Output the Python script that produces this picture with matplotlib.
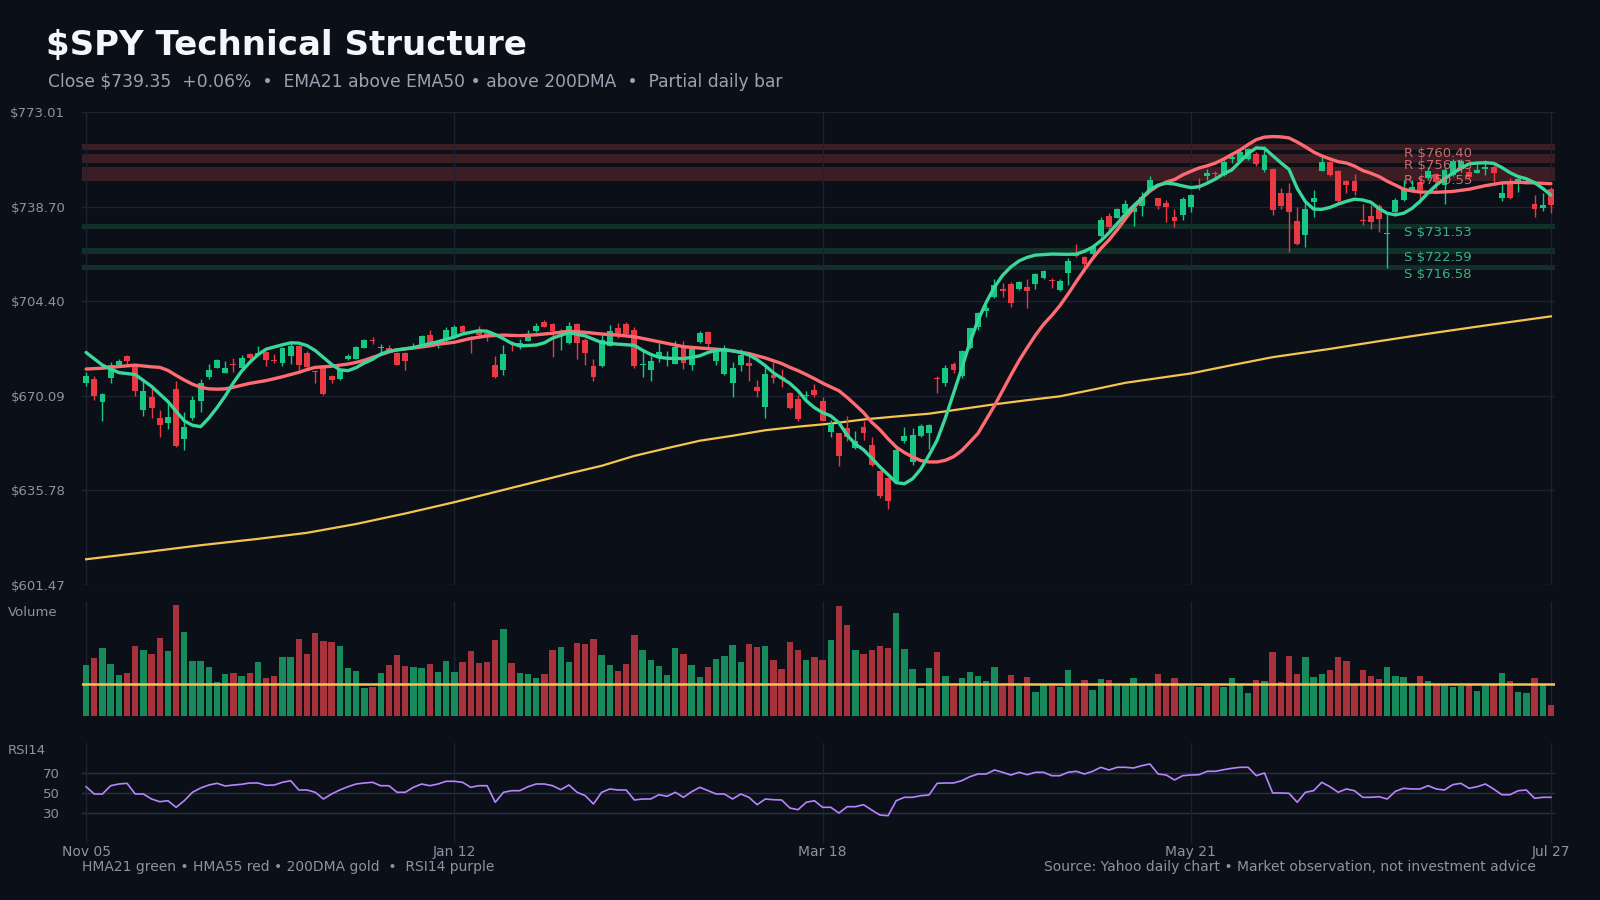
import matplotlib
matplotlib.use("Agg")
import matplotlib.pyplot as plt
import numpy as np

BG = "#0b0f17"
GRID = "#1d2331"
TICK = "#8b93a3"
UP = "#16c784"
DOWN = "#ea3943"
HMA_G = "#3ad69a"
HMA_R = "#ff6b72"
GOLD = "#f5c451"
PURPLE = "#b784ff"

# ---- daily candles (index 0 = Nov 05, last = Jul 27) ----
opens = [674.6, 676.3, 667.7, 676.7, 680.9, 684.6, 680.6, 665.1, 669.7, 662.1,
         660.3, 672.6, 654.6, 662.2, 668.3, 677.0, 680.2, 678.4, 681.7, 680.2,
         685.3, 685.0, 686.0, 683.0, 682.0, 684.6, 688.2, 685.7, 679.2, 680.6,
         677.4, 676.3, 683.5, 683.5, 687.5, 690.4, 687.4, 687.5, 685.7, 685.7,
         687.5, 688.6, 692.2, 688.8, 690.4, 691.5, 695.5, 691.5, 693.3, 692.9,
         681.3, 679.3, 689.4, 688.4, 690.0, 693.7, 696.9, 696.2, 692.9, 689.1,
         696.2, 690.4, 681.0, 681.0, 688.2, 694.8, 696.2, 694.0, 681.2, 679.5,
         683.9, 683.8, 681.7, 687.5, 681.3, 689.7, 693.3, 682.8, 678.1, 674.6,
         681.3, 682.0, 673.4, 666.2, 677.7, 677.0, 671.2, 669.0, 669.9, 672.3,
         668.3, 657.0, 656.5, 658.3, 651.2, 658.7, 652.1, 642.8, 640.2, 639.2,
         653.6, 646.1, 655.5, 656.6, 676.5, 674.8, 681.5, 677.3, 687.5, 695.0,
         700.9, 705.9, 708.8, 710.6, 708.8, 709.5, 710.7, 712.8, 712.0, 708.5,
         714.7, 721.3, 720.5, 721.5, 728.0, 735.3, 734.7, 736.5, 736.9, 738.9,
         744.5, 741.7, 740.0, 734.9, 735.7, 738.7, 746.5, 749.9, 750.9, 750.2,
         755.8, 755.2, 756.0, 757.8, 752.0, 752.3, 743.7, 743.7, 733.6, 728.4,
         740.3, 751.7, 754.9, 751.6, 748.0, 748.0, 733.8, 735.3, 738.9, 728.6,
         736.7, 741.1, 744.4, 747.7, 749.0, 750.4, 746.5, 750.2, 752.2, 751.4,
         751.0, 752.2, 753.2, 741.8, 746.8, 747.7, 747.4, 739.6, 738.3, 745.1]
highs = [678.9, 677.4, 671.2, 682.2, 683.5, 685.0, 681.0, 675.5, 673.4, 665.0,
         667.2, 675.5, 664.3, 670.1, 676.3, 681.7, 683.4, 682.8, 683.9, 685.0,
         685.6, 688.2, 686.4, 685.3, 687.9, 689.7, 688.6, 686.2, 679.6, 681.0,
         677.7, 679.9, 685.3, 688.2, 690.8, 691.5, 689.0, 688.6, 686.0, 686.0,
         689.3, 692.2, 694.0, 690.4, 695.1, 695.8, 695.8, 691.9, 695.5, 693.7,
         684.6, 688.6, 690.0, 690.8, 694.0, 696.6, 697.7, 696.6, 694.2, 696.9,
         696.6, 691.0, 683.5, 692.2, 695.8, 696.6, 696.9, 695.1, 686.4, 684.6,
         689.3, 686.4, 690.0, 690.0, 687.5, 693.7, 693.7, 686.8, 688.6, 682.4,
         687.1, 684.6, 675.9, 680.4, 682.4, 679.9, 671.6, 670.5, 671.9, 674.4,
         669.7, 661.2, 656.7, 662.7, 657.2, 660.8, 655.2, 643.1, 640.4, 651.9,
         658.8, 658.3, 659.9, 659.9, 677.2, 681.2, 682.2, 686.6, 694.8, 700.4,
         703.0, 712.4, 710.9, 711.3, 711.7, 712.4, 714.6, 715.7, 712.8, 712.3,
         719.9, 725.1, 720.8, 724.8, 734.8, 736.3, 738.1, 741.1, 739.6, 744.0,
         749.8, 741.9, 741.1, 737.8, 742.3, 743.1, 749.0, 752.3, 751.6, 755.6,
         758.0, 760.0, 760.0, 758.5, 760.7, 752.8, 745.3, 747.4, 738.7, 740.0,
         744.7, 756.6, 755.2, 752.0, 748.3, 750.5, 739.6, 739.3, 739.6, 736.3,
         741.8, 748.3, 748.3, 749.6, 753.2, 751.0, 752.6, 756.1, 755.8, 753.2,
         754.4, 755.6, 753.8, 747.1, 749.0, 749.6, 748.6, 742.9, 743.5, 745.9]
lows = [673.7, 668.5, 660.8, 674.6, 680.4, 681.0, 670.1, 662.8, 662.0, 655.3,
        658.2, 651.7, 650.6, 661.3, 664.1, 676.3, 680.0, 678.2, 678.9, 679.9,
        682.2, 684.6, 681.0, 682.0, 681.0, 681.7, 679.6, 679.2, 674.6, 670.5,
        674.6, 675.9, 683.2, 683.3, 687.4, 689.0, 685.7, 686.4, 681.2, 679.5,
        687.4, 688.4, 688.2, 687.5, 690.0, 691.2, 692.9, 685.7, 691.9, 690.0,
        676.5, 677.7, 686.4, 686.9, 689.8, 693.4, 694.9, 684.2, 686.8, 689.0,
        683.5, 681.3, 675.3, 680.4, 688.0, 691.2, 692.2, 680.0, 677.0, 675.3,
        682.4, 681.0, 681.5, 679.9, 679.5, 689.4, 687.9, 681.3, 677.7, 669.5,
        679.2, 675.3, 669.5, 661.9, 674.6, 673.1, 665.4, 661.0, 668.3, 669.5,
        660.8, 655.2, 644.6, 653.7, 650.8, 654.0, 644.6, 633.1, 629.0, 638.8,
        653.0, 645.0, 655.2, 650.8, 671.1, 673.7, 678.4, 676.5, 687.2, 693.9,
        698.7, 705.6, 706.0, 702.2, 708.4, 701.9, 708.8, 712.3, 709.3, 708.2,
        710.4, 720.5, 715.1, 721.1, 727.8, 729.6, 734.4, 736.3, 731.7, 735.3,
        744.1, 737.8, 733.1, 731.3, 733.8, 736.9, 744.7, 748.3, 748.8, 749.9,
        754.5, 755.0, 755.7, 753.4, 751.4, 735.5, 737.7, 722.4, 724.8, 724.2,
        735.0, 751.5, 749.9, 739.6, 743.5, 742.9, 732.0, 730.6, 729.6, 716.5,
        735.7, 740.8, 744.0, 740.1, 748.3, 745.0, 739.6, 749.9, 751.4, 749.0,
        750.8, 750.2, 747.7, 740.8, 741.6, 744.1, 746.9, 735.0, 737.1, 736.5]
closes = [677.4, 669.9, 670.8, 681.3, 682.8, 682.8, 671.7, 671.9, 665.5, 659.6,
          662.5, 652.0, 658.9, 668.6, 674.8, 679.5, 683.2, 680.2, 681.3, 683.9,
          683.9, 685.7, 683.2, 682.6, 687.5, 688.2, 681.3, 680.6, 678.7, 670.8,
          675.9, 679.5, 684.6, 687.9, 690.4, 690.0, 687.7, 686.7, 681.3, 682.8,
          687.9, 691.9, 689.3, 689.4, 694.0, 695.1, 693.3, 690.4, 692.1, 692.2,
          677.0, 685.3, 688.8, 689.1, 692.2, 695.5, 695.1, 693.7, 693.7, 695.5,
          689.1, 685.7, 677.0, 690.4, 693.7, 692.6, 692.6, 681.0, 681.7, 682.8,
          686.0, 684.2, 687.9, 682.0, 687.1, 692.9, 689.0, 686.4, 686.4, 680.2,
          685.0, 681.0, 672.0, 678.1, 676.6, 676.3, 665.7, 661.8, 670.5, 670.5,
          661.0, 660.0, 648.3, 655.2, 653.7, 656.6, 645.0, 633.7, 631.9, 650.3,
          655.5, 655.9, 659.0, 659.5, 676.0, 680.1, 679.5, 686.3, 694.6, 700.1,
          701.9, 710.2, 708.0, 703.7, 711.3, 708.2, 714.2, 715.3, 711.7, 711.8,
          718.9, 720.9, 718.0, 723.9, 733.8, 731.4, 737.8, 739.6, 738.3, 742.3,
          748.3, 738.9, 738.6, 733.6, 741.4, 742.9, 746.2, 750.9, 750.5, 754.9,
          756.7, 758.5, 759.6, 754.1, 757.4, 737.5, 738.9, 736.7, 725.1, 737.8,
          741.8, 754.9, 750.2, 740.7, 746.7, 744.4, 733.4, 733.1, 734.2, 728.9,
          741.1, 745.3, 745.7, 744.7, 751.6, 747.7, 752.0, 755.4, 755.4, 749.6,
          752.0, 753.0, 750.8, 743.7, 741.8, 748.6, 748.0, 737.8, 739.2, 739.35]

# volume, millions of shares
volume = [78.0, 83.3, 90.8, 78.8, 70.5, 72.0, 92.3, 89.3, 86.3, 98.3,
          88.5, 123.0, 102.8, 81.0, 81.0, 76.5, 65.3, 71.3, 72.0, 69.8,
          72.0, 80.3, 68.3, 69.8, 84.0, 84.0, 97.5, 86.3, 102.0, 96.0,
          95.3, 92.3, 75.8, 73.5, 60.8, 61.5, 72.0, 78.0, 85.5, 77.5,
          76.5, 75.8, 78.8, 72.8, 81.0, 72.8, 80.3, 88.5, 79.5, 80.3,
          96.8, 105.0, 79.5, 72.0, 71.3, 68.3, 71.3, 89.3, 91.5, 80.3,
          94.5, 93.8, 97.5, 85.5, 78.0, 73.5, 78.8, 100.5, 89.3, 81.8,
          77.3, 70.5, 90.8, 86.3, 78.0, 69.0, 76.5, 82.5, 84.8, 93.0,
          80.3, 93.8, 91.5, 92.3, 81.8, 75.0, 95.3, 89.3, 81.8, 84.0,
          81.8, 96.8, 122.3, 108.0, 89.3, 86.3, 89.3, 92.3, 90.8, 117.0,
          90.0, 75.0, 60.8, 75.8, 87.8, 69.8, 62.3, 68.3, 72.8, 69.8,
          66.0, 76.5, 62.3, 70.5, 62.3, 69.0, 57.8, 63.0, 62.3, 61.5,
          74.3, 62.3, 66.8, 59.3, 67.5, 66.8, 63.8, 63.8, 68.3, 63.8,
          63.8, 71.3, 63.8, 68.3, 63.8, 62.3, 61.5, 63.0, 62.3, 61.5,
          68.3, 63.8, 57.0, 66.8, 66.0, 87.8, 65.3, 84.8, 71.3, 84.0,
          69.0, 71.3, 74.3, 84.0, 81.0, 63.8, 74.3, 69.8, 67.5, 76.5,
          69.8, 69.0, 63.8, 69.8, 66.0, 63.8, 63.8, 61.5, 62.3, 63.8,
          58.5, 63.8, 63.8, 72.0, 66.0, 57.8, 57.0, 68.3, 63.8, 48.0]
vol_avg = 64.0

rsi = [56.3, 49.0, 49.0, 57.3, 59.0, 59.7, 49.0, 49.0, 44.0, 41.3,
       42.3, 35.7, 42.3, 50.7, 55.0, 58.0, 59.7, 57.0, 58.0, 58.7,
       60.0, 60.0, 57.7, 58.0, 60.7, 62.3, 53.0, 53.0, 50.7, 44.0,
       49.0, 53.0, 56.3, 59.0, 60.0, 60.7, 57.3, 57.3, 50.7, 50.7,
       55.7, 59.0, 57.3, 59.0, 61.7, 61.7, 60.7, 55.7, 57.3, 57.3,
       40.7, 50.7, 52.3, 52.3, 56.3, 59.0, 59.0, 57.3, 53.3, 58.0,
       50.7, 47.3, 39.0, 50.7, 54.0, 53.0, 53.0, 43.0, 44.0, 44.0,
       48.3, 46.7, 50.7, 45.7, 51.3, 55.7, 52.3, 49.0, 49.0, 44.0,
       49.0, 45.7, 38.3, 44.0, 43.3, 43.0, 35.0, 33.3, 40.7, 42.3,
       35.7, 35.7, 30.0, 36.3, 36.3, 38.3, 33.0, 28.0, 27.3, 42.3,
       45.7, 45.7, 47.3, 48.0, 59.7, 60.0, 60.0, 62.3, 66.3, 69.0,
       69.0, 73.0, 70.7, 68.0, 70.7, 68.3, 70.7, 70.7, 67.3, 67.3,
       70.7, 71.7, 69.0, 71.7, 75.7, 73.0, 75.7, 75.7, 75.0, 77.3,
       79.0, 69.0, 68.0, 63.0, 67.3, 68.0, 68.3, 71.7, 71.7, 73.3,
       74.7, 75.7, 75.7, 67.3, 70.0, 50.0, 50.0, 49.7, 40.7, 50.7,
       52.3, 60.7, 56.3, 50.7, 54.0, 52.3, 45.7, 45.7, 46.3, 44.0,
       51.7, 54.7, 54.0, 54.0, 57.3, 54.0, 53.0, 58.3, 59.7, 54.7,
       56.3, 59.0, 54.0, 48.3, 48.3, 52.3, 53.0, 44.7, 45.7, 45.7]

# moving averages (bar index, price)
hma21_idx = [0, 2, 4, 6, 8, 10, 12, 13, 14, 15, 16, 17, 18, 19, 20, 21, 22, 24, 25, 26,
             27, 28, 29, 30, 31, 32, 33, 34, 35, 36, 37, 38, 40, 42, 43, 45, 46, 48, 49, 50,
             51, 52, 53, 55, 56, 57, 59, 61, 62, 63, 65, 67, 68, 69, 70, 71, 73, 74, 75, 76,
             77, 78, 79, 80, 81, 82, 83, 84, 85, 86, 87, 88, 89, 90, 91, 92, 93, 94, 95, 96,
             97, 98, 99, 100, 101, 102, 103, 104, 105, 106, 107, 108, 109, 110, 111, 112, 113, 114, 115, 116,
             118, 120, 121, 122, 123, 124, 125, 126, 127, 128, 129, 130, 131, 132, 133, 134, 135, 136, 137, 138,
             139, 140, 141, 142, 143, 144, 145, 146, 147, 148, 149, 150, 151, 152, 153, 154, 155, 156, 157, 158,
             159, 160, 161, 162, 163, 164, 165, 166, 167, 168, 169, 170, 171, 172, 173, 174, 175, 176, 177, 178,
             179]
hma21_val = [685.8, 681.2, 678.5, 677.8, 673.5, 668.0, 661.0, 659.4, 658.9, 662.0,
             665.8, 670.0, 674.8, 679.0, 682.2, 685.0, 687.0, 688.6, 689.3, 689.2,
             688.3, 686.5, 684.0, 681.5, 679.5, 679.2, 680.3, 682.0, 683.3, 685.2,
             686.3, 686.7, 687.6, 689.0, 689.7, 691.4, 692.5, 693.7, 693.5, 692.3,
             690.8, 689.1, 688.2, 688.5, 689.3, 691.0, 693.0, 691.8, 690.6, 689.4,
             688.8, 688.4, 686.6, 685.1, 684.1, 683.7, 683.6, 684.0, 684.6, 685.8,
             686.6, 686.8, 686.4, 685.8, 684.9, 683.2, 681.0, 678.4, 676.5, 674.6,
             671.9, 668.3, 665.8, 664.0, 662.8, 660.3, 655.8, 652.6, 650.5, 647.5,
             644.3, 641.5, 638.6, 638.2, 640.0, 643.5, 648.5, 654.0, 662.0, 671.0,
             680.0, 689.5, 697.5, 704.0, 709.5, 713.8, 716.8, 719.0, 720.3, 721.1,
             721.5, 721.4, 721.5, 722.5, 724.0, 726.3, 729.2, 732.5, 736.0, 739.0,
             741.7, 744.9, 746.5, 747.2, 746.9, 746.2, 745.6, 745.9, 747.2, 748.7,
             750.6, 752.0, 755.0, 758.0, 760.0, 759.8, 757.2, 754.6, 752.2, 745.3,
             740.5, 737.8, 737.7, 738.4, 739.6, 740.6, 741.4, 741.1, 740.3, 738.0,
             736.3, 735.7, 736.3, 738.0, 740.6, 743.7, 746.5, 748.8, 750.8, 752.6,
             754.2, 754.5, 754.6, 754.4, 752.9, 751.0, 749.6, 748.8, 747.4, 745.3,
             742.9]
hma55_idx = [0, 2, 4, 6, 8, 9, 10, 11, 12, 13, 14, 15, 16, 17, 18, 19, 20, 22, 24, 26,
             27, 28, 29, 30, 31, 32, 33, 34, 35, 36, 37, 38, 40, 42, 43, 45, 47, 49, 51, 53,
             55, 57, 59, 61, 63, 65, 67, 69, 71, 73, 75, 77, 79, 81, 83, 84, 85, 86, 87, 88,
             89, 90, 91, 92, 93, 94, 95, 96, 97, 98, 99, 100, 101, 102, 103, 104, 105, 106, 107, 108,
             109, 110, 111, 112, 113, 114, 115, 116, 117, 118, 119, 120, 121, 122, 123, 124, 125, 126, 127, 128,
             129, 130, 131, 132, 133, 134, 135, 136, 137, 138, 139, 140, 141, 142, 143, 144, 145, 146, 147, 148,
             149, 150, 151, 152, 153, 154, 155, 156, 157, 158, 159, 160, 161, 162, 163, 165, 167, 169, 171, 173,
             175, 177, 179]
hma55_val = [679.8, 680.1, 680.7, 681.2, 680.6, 680.4, 679.3, 677.5, 675.8, 674.3,
             673.2, 672.6, 672.5, 672.6, 673.2, 673.9, 674.6, 675.6, 677.0, 678.6,
             679.6, 680.4, 680.6, 680.8, 681.2, 681.6, 682.2, 683.0, 684.0, 685.0,
             686.0, 686.8, 687.4, 688.2, 688.8, 689.5, 690.9, 691.8, 692.1, 691.9,
             692.2, 692.8, 693.5, 693.1, 692.5, 692.1, 691.5, 690.3, 689.1, 687.9,
             687.4, 687.0, 686.4, 685.4, 683.8, 682.8, 681.8, 680.4, 679.2, 677.8,
             676.3, 674.7, 673.3, 671.9, 669.5, 666.8, 664.0, 660.5, 657.8, 654.5,
             651.5, 649.5, 647.9, 646.6, 646.1, 646.1, 646.7, 648.0, 650.2, 653.3,
             656.5, 661.5, 666.5, 672.0, 677.5, 682.8, 687.5, 692.0, 696.0, 699.2,
             702.8, 707.0, 711.5, 715.8, 719.9, 723.5, 726.6, 730.3, 734.3, 738.2,
             741.6, 744.3, 746.3, 747.6, 748.5, 750.2, 751.5, 752.7, 753.5, 754.5,
             755.9, 757.6, 759.2, 761.2, 763.0, 763.9, 764.1, 764.0, 763.6, 762.1,
             760.4, 758.5, 757.1, 756.0, 755.0, 754.5, 753.4, 751.8, 750.8, 749.6,
             747.9, 746.5, 745.0, 744.4, 744.0, 743.9, 744.2, 745.0, 746.3, 747.3,
             747.5, 747.3, 747.0]
dma200_idx = [0, 7, 14, 21, 27, 33, 39, 45, 52, 57, 59, 63, 67, 71, 75, 79, 83, 87, 91,
              95, 99, 103, 107, 111, 115, 119, 123, 127, 131, 135, 140, 145, 152, 158, 164,
              171, 179]
dma200_val = [610.8, 613.3, 615.9, 618.2, 620.4, 623.6, 627.4, 631.5, 636.7, 640.4,
              641.9, 644.7, 648.3, 651.1, 653.8, 655.6, 657.6, 658.9, 660.0,
              661.5, 662.6, 663.6, 665.3, 667.0, 668.5, 669.9, 672.3, 674.8, 676.5,
              678.2, 681.2, 684.1, 687.1, 689.9, 692.6, 695.6, 698.9]

res_levels = [760.40, 756.13, 750.55]
res_half = [1.1, 1.6, 2.5]
sup_levels = [731.53, 722.59, 716.58]
sup_half = [1.0, 1.0, 1.0]

tick_idx = [0, 45, 90, 135, 179]
tick_lbl = ["Nov 05", "Jan 12", "Mar 18", "May 21", "Jul 27"]
y_lo, y_hi = 601.472, 773.012

n = len(closes)
x = np.arange(n)
o = np.array(opens)
c = np.array(closes)
up = c >= o

fig = plt.figure(figsize=(16, 9), dpi=100, facecolor=BG)
L, W = 82 / 1600, (1555 - 82) / 1600
ax = fig.add_axes([L, 1 - 585 / 900, W, (585 - 112) / 900], facecolor=BG)
axv = fig.add_axes([L, 1 - 716 / 900, W, (716 - 602) / 900], facecolor=BG)
axr = fig.add_axes([L, 1 - 843 / 900, W, 100 / 900], facecolor=BG)

for a in (ax, axv, axr):
    a.set_xlim(-0.5, n - 0.5)
    for s in a.spines.values():
        s.set_visible(False)
    a.set_xticks(tick_idx)
    a.grid(axis="x", color=GRID, lw=1)
    a.tick_params(length=0, colors=TICK, labelsize=9.5)
    a.set_axisbelow(True)

# ---- price panel ----
ax.set_ylim(y_lo, y_hi)
yt = np.linspace(y_lo, y_hi, 6)
ax.set_yticks(yt)
ax.set_yticklabels([f"${v:.2f}" for v in yt])
ax.tick_params(axis="y", pad=12)
ax.grid(axis="y", color=GRID, lw=1)
ax.set_xticklabels([])

for lv, hw in zip(res_levels, res_half):
    ax.axhspan(lv - hw, lv + hw, color="#3b1d23", lw=0, zorder=0.5)
for lv, hw in zip(sup_levels, sup_half):
    ax.axhspan(lv - hw, lv + hw, color="#12302a", lw=0, zorder=0.5)

ax.plot(dma200_idx, dma200_val, color=GOLD, lw=1.6, zorder=2)

cols = np.where(up, UP, DOWN)
ax.vlines(x, lows, highs, colors=cols, lw=1, zorder=3)
body = np.maximum(np.abs(c - o), 0.35)
ax.bar(x, body, bottom=np.minimum(o, c), width=0.72, color=cols, lw=0, zorder=4)

ax.plot(hma55_idx, hma55_val, color=HMA_R, lw=2.4, zorder=5, solid_capstyle="round")
ax.plot(hma21_idx, hma21_val, color=HMA_G, lw=2.4, zorder=6, solid_capstyle="round")

for lv in res_levels:
    ax.text(n - 19, lv, f"R ${lv:.2f}", color="#e57a7c", alpha=0.85, fontsize=9.5,
            va="top", ha="left", zorder=7)
for lv in sup_levels:
    ax.text(n - 19, lv, f"S ${lv:.2f}", color="#3cc48f", alpha=0.9, fontsize=9.5,
            va="top", ha="left", zorder=7)

# ---- volume panel ----
vcols = np.where(up, "#178a5c", "#a8323b")
axv.bar(x, volume, width=0.78, color=vcols, lw=0)
axv.axhline(vol_avg, color=GOLD, lw=1.8)
axv.set_ylim(40, 125)
axv.set_yticks([])
axv.set_xticklabels([])

# ---- RSI panel ----
axr.plot(x, rsi, color=PURPLE, lw=1.2)
axr.set_ylim(0, 100)
axr.set_yticks([30, 50, 70])
axr.set_yticklabels(["30", "50", "70"])
axr.tick_params(axis="y", pad=16)
for lv in (30, 50, 70):
    axr.axhline(lv, color="#2a3142", lw=1, zorder=0.5)
axr.set_xticklabels(tick_lbl)
axr.tick_params(axis="x", pad=1.5, labelsize=10)

# ---- titles and notes ----
fig.text(46 / 1600, 1 - 45 / 900, "$SPY Technical Structure", color="#f4f6fa",
         fontsize=24.5, fontweight="bold", va="center")
fig.text(48 / 1600, 1 - 82 / 900,
         "Close $739.35  +0.06%  •  EMA21 above EMA50 • above 200DMA  •  Partial daily bar",
         color="#9aa3b4", fontsize=12.3, va="center")
fig.text(8 / 1600, 1 - 612 / 900, "Volume", color=TICK, fontsize=9.5, va="center")
fig.text(8 / 1600, 1 - 750 / 900, "RSI14", color=TICK, fontsize=9.5, va="center")
fig.text(82 / 1600, 1 - 867 / 900, "HMA21 green • HMA55 red • 200DMA gold  •  RSI14 purple",
         color=TICK, fontsize=10, va="center")
fig.text(1536 / 1600, 1 - 867 / 900,
         "Source: Yahoo daily chart • Market observation, not investment advice",
         color=TICK, fontsize=10, va="center", ha="right")

fig.savefig("out.png", dpi=100, facecolor=BG)
